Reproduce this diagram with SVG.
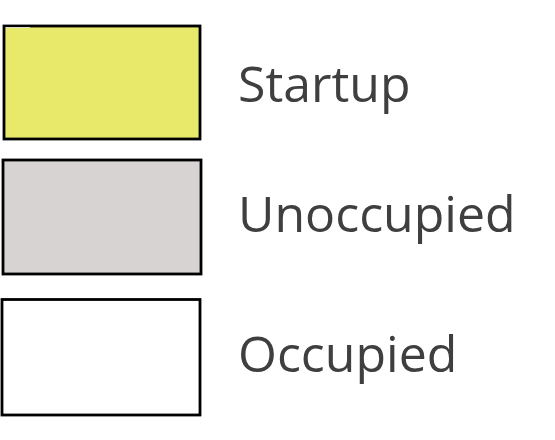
<svg xmlns="http://www.w3.org/2000/svg" width="555" height="440" viewBox="0 0 555 440">
<style>
.box{stroke:#000;stroke-width:2.8}
.lbl{font-family:"Open Sans","Noto Sans",sans-serif;font-size:50px;fill:#3f3f3f}
</style>
<rect width="555" height="440" fill="#fff"/>
<g id="startup">
<rect class="box" x="4" y="26" width="196" height="113" fill="#e8e86a"/>
<path d="M5.5 27.5 L30 27.5" stroke="#fff" stroke-width="1" opacity="0.7"/>
<text class="lbl" x="238" y="102">Startup</text>
</g>
<g id="unoccupied">
<rect class="box" x="3" y="160" width="198" height="114" fill="#d7d3d3"/>
<text class="lbl" x="238" y="232">Unoccupied</text>
</g>
<g id="occupied">
<rect class="box" x="2" y="299.5" width="198" height="115.5" fill="#fff"/>
<text class="lbl" x="238" y="372">Occupied</text>
</g>
<g id="connectors"></g>
</svg>
